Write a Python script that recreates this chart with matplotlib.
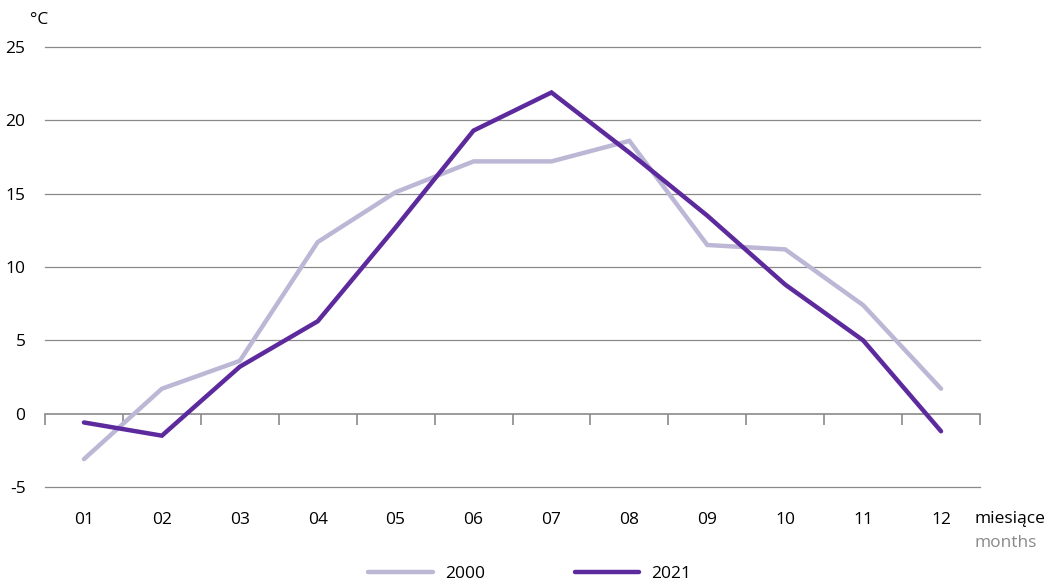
import matplotlib.pyplot as plt
from matplotlib.lines import Line2D
import numpy as np

plt.rcParams['font.family'] = ['Open Sans', 'DejaVu Sans']

months = ['01', '02', '03', '04', '05', '06', '07', '08', '09', '10', '11', '12']
t2000 = [-3.1, 1.7, 3.6, 11.7, 15.1, 17.2, 17.2, 18.6, 11.5, 11.2, 7.4, 1.7]
t2021 = [-0.6, -1.5, 3.2, 6.3, 12.7, 19.3, 21.9, 17.8, 13.5, 8.8, 5.0, -1.2]

c2000 = '#bdb7d6'
c2021 = '#5c2a9d'
grid_c = '#8a8a8a'

fig = plt.figure(figsize=(10.51, 5.82), dpi=100)
ax = fig.add_axes([45 / 1051, 1 - 487 / 582, 935 / 1051, 440 / 582])

x = np.arange(len(months))
ax.plot(x, t2000, color=c2000, lw=3.2, solid_capstyle='round', solid_joinstyle='miter', zorder=3)
ax.plot(x, t2021, color=c2021, lw=3.2, solid_capstyle='round', solid_joinstyle='miter', zorder=4)

ax.set_xlim(-0.5, 11.5)
ax.set_ylim(-5, 25)
ax.set_yticks([-5, 0, 5, 10, 15, 20, 25])
ax.set_yticklabels(['-5', '0', '5', '10', '15', '20', '25'])
for yv in [-5, 5, 10, 15, 20, 25]:
    ax.axhline(yv, color=grid_c, lw=0.9, zorder=1, clip_on=False)

for s in ['left', 'right', 'top']:
    ax.spines[s].set_visible(False)
ax.spines['bottom'].set_position(('data', 0))
ax.spines['bottom'].set_color(grid_c)
ax.spines['bottom'].set_linewidth(1.2)

ax.set_xticks(x)
ax.set_xticklabels(months)
ax.set_xticks(np.arange(-0.5, 12, 1), minor=True)
ax.tick_params(axis='x', which='major', length=0, pad=71, labelsize=12.5)
ax.tick_params(axis='x', which='minor', length=8, width=1.2, color=grid_c, direction='out')
ax.tick_params(axis='y', length=0, pad=14, labelsize=12.5)

fig.text(30 / 1051, 1 - 20 / 582, '°C', fontsize=12.5, va='center', ha='left')
fig.text(975 / 1051, 1 - 519 / 582, 'miesiące', fontsize=12.5, va='center', ha='left')
fig.text(975 / 1051, 1 - 543 / 582, 'months', fontsize=12.5, va='center', ha='left', color='#8a8a8a')

handles = [Line2D([], [], color=c2000, lw=3.2, solid_capstyle='round'),
           Line2D([], [], color=c2021, lw=3.2, solid_capstyle='round')]
fig.legend(handles, ['2000', '2021'], loc='center', bbox_to_anchor=(530 / 1051, 1 - 574 / 582),
           ncol=2, frameon=False, fontsize=12.5, handlelength=3.7, columnspacing=5.2, handletextpad=0.7)

fig.savefig('out.png', dpi=100)
